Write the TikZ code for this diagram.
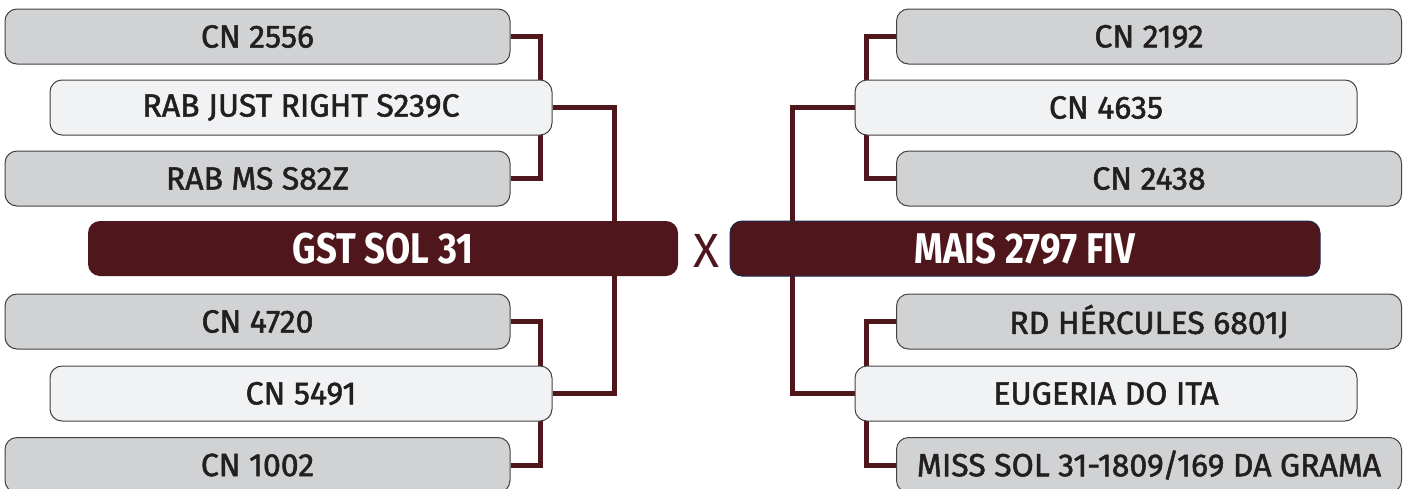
\documentclass[tikz,border=0pt]{standalone}
\usepackage{fontspec}
\setmainfont{Fira Sans}
\newfontfamily\entryfont{Fira Sans}[FakeBold=1.6]
\newfontfamily\headfont{Fira Sans Bold}[FakeStretch=0.85]
\usetikzlibrary{positioning}
\pgfdeclarelayer{bg}
\pgfdeclarelayer{lines}
\pgfsetlayers{bg,lines,main}
\definecolor{maroon}{HTML}{4F171C}
\definecolor{boxgrey}{HTML}{D1D2D4}
\definecolor{boxlight}{HTML}{F1F2F4}
\definecolor{txt}{HTML}{231F20}
\definecolor{navy}{HTML}{1F2A4F}
\tikzset{
  x=1pt, y=-1pt,
  entry/.style={draw=txt!85, line width=1pt, rounded corners=12pt, minimum height=55pt,
    inner sep=0pt, text=txt, font=\entryfont\fontsize{32}{38}\selectfont},
  greybox/.style={entry, fill=boxgrey, minimum width=505pt},
  lightbox/.style={entry, fill=boxlight, minimum width=502pt},
  headbox/.style={fill=maroon, rounded corners=12pt, minimum height=55pt, minimum width=590pt,
    inner sep=0pt, text=white, font=\headfont\fontsize{43}{48}\selectfont},
  link/.style={draw=maroon, line width=5pt},
}
\begin{document}
\begin{tikzpicture}
\begin{pgfonlayer}{bg}
\fill[white] (0,0) rectangle (1407,488);
\end{pgfonlayer}
\useasboundingbox (0,0) rectangle (1407,488);
% left column
\node[greybox]  (a1) at (257.5,36.5) {CN 2556};
\node[lightbox] (a2) at (301,107.5) {RAB JUST RIGHT S239C};
\node[greybox]  (a3) at (257.5,178.5) {RAB MS S82Z};
\node[headbox]  (gst) at (383,248.5) {GST SOL 31};
\node[greybox]  (a4) at (257.5,321.5) {CN 4720};
\node[lightbox] (a5) at (301,393.5) {CN 5491};
\node[greybox]  (a6) at (257.5,465) {CN 1002};
% right column
\node[greybox]  (b1) at (1149,36.5) {CN 2192};
\node[lightbox] (b2) at (1106,107.5) {CN 4635};
\node[greybox]  (b3) at (1149,178.5) {CN 2438};
\node[headbox, draw=navy, line width=1pt] (mais) at (1025,248.5) {MAIS 2797 FIV};
\node[greybox]  (b4) at (1149,321.5) {RD HÉRCULES 6801J};
\node[lightbox] (b5) at (1106,393.5) {EUGERIA DO ITA};
\node[greybox]  (b6) at (1149,465) {MISS SOL 31-1809/169 DA GRAMA};
\node[text=maroon, font=\fontsize{48}{54}\selectfont, inner sep=0pt] (vs) at (706,251) {X};
% connectors
\begin{pgfonlayer}{lines}
\draw[link] (a1.east) -- ++(30,0) |- (a3.east);
\draw[link] (a4.east) -- ++(30,0) |- (a6.east);
\draw[link] (a2.east) -- ++(62,0) |- (a5.east);
\draw[link] (b1.west) -- ++(-30,0) |- (b3.west);
\draw[link] (b4.west) -- ++(-30,0) |- (b6.west);
\draw[link] (b2.west) -- ++(-62,0) |- (b5.west);
\end{pgfonlayer}
\end{tikzpicture}
\end{document}
